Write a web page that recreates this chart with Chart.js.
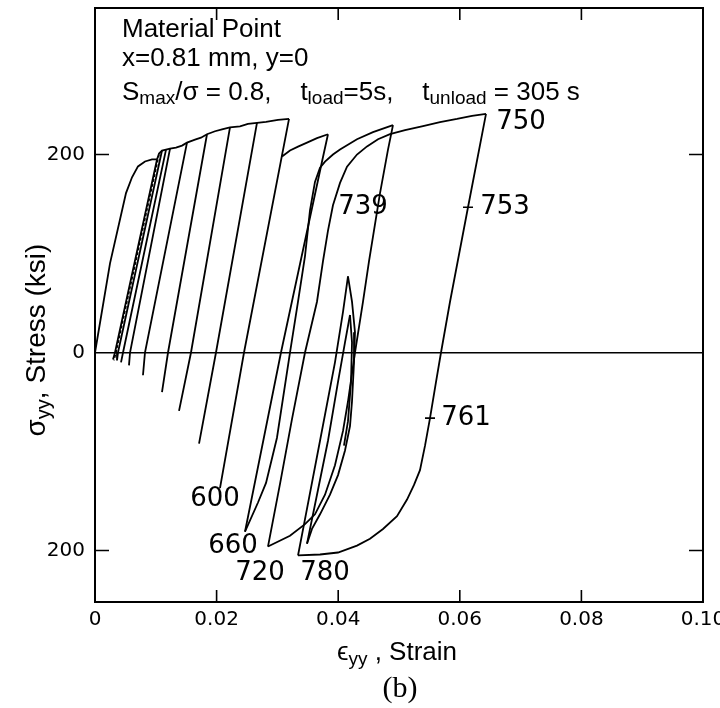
<!DOCTYPE html>
<html>
<head>
<meta charset="utf-8">
<script src="https://cdn.jsdelivr.net/npm/chart.js@4.4.1/dist/chart.umd.min.js"></script>
<style>
html,body{margin:0;padding:0;background:#fff;}
canvas{display:block;}
</style>
</head>
<body>
<canvas id="chart" width="720" height="708"></canvas>
<script>
// ---------------- axis ticks ----------------
const xTicks = [0, 0.02, 0.04, 0.06, 0.08, 0.10];
const xTickLabels = ['0', '0.02', '0.04', '0.06', '0.08', '0.10'];
const yTicks = [-200, 0, 200];
const yTickLabels = ['200', '0', '200'];

// ---------------- first loading ----------------
const initStrain = [0, 0.00247, 0.0051, 0.00609, 0.00707, 0.00822, 0.00938, 0.0102];
const initStress = [0, 90, 161, 177, 188, 193, 195, 195];

// ---------------- upper envelope of the early cycles ----------------
const envStrain = [0.0102, 0.01053, 0.01102, 0.01168, 0.01234, 0.01332, 0.01431, 0.01513, 0.01645, 0.01743,
                   0.01842, 0.01974, 0.02089, 0.0222, 0.02385, 0.02516, 0.02664, 0.02813, 0.0301, 0.03191];
const envStress = [195, 201, 204, 205, 206, 207, 209, 212, 215, 217,
                   220.5, 223.5, 225.5, 227.5, 228.5, 231, 232, 233, 235, 236];

// ---------------- early unload / reload lines (peak -> zero crossing -> minimum) ----------------
const cycPeakStrain = [0.0102, 0.01102, 0.01168, 0.01234, 0.01513, 0.01842, 0.0222, 0.02664, 0.03191];
const cycPeakStress = [195, 204, 205, 206, 212, 220.5, 227.5, 232, 236];
const cycZeroStrain = [0.00329, 0.00378, 0.00461, 0.00576, 0.00822, 0.01201, 0.01579, 0.0199, 0.02451];
const cycMinStrain  = [0.00296, 0.00362, 0.00428, 0.00559, 0.00789, 0.01102, 0.01382, 0.01711, 0.02056];
const cycMinStress  = [-7, -8, -10, -13, -23, -40, -59, -92, -137];

// repeated first cycles (double line)
const repStrain = [0.01053, 0.00345, 0.00312];
const repStress = [200, 0, -8];

// ---------------- later cycles ----------------
const load630Strain = [0.03076, 0.03207, 0.03339, 0.03487, 0.03651, 0.03832];
const load630Stress = [198, 204, 208, 212, 216.5, 220.5];

const unload660Strain = [0.03832, 0.03734, 0.03059, 0.02467];
const unload660Stress = [220.5, 193, 0, -181];

const load690Strain = [0.02467, 0.02681, 0.02813, 0.02993, 0.03207, 0.03339, 0.03454, 0.03536, 0.03618, 0.03701,
                       0.03783, 0.03914, 0.0403, 0.04309, 0.04572, 0.04901];
const load690Stress = [-181, -151.5, -131.7, -86.1, 0, 51.3, 97.4, 143.6, 172.3, 186.7,
                       192.8, 200, 205.1, 215.4, 222.6, 229.7];

const unload720Strain = [0.04901, 0.04819, 0.04688, 0.04507, 0.04408, 0.04276, 0.04161, 0.04079, 0.03947, 0.03783,
                         0.03618, 0.03454, 0.03207, 0.02845];
const unload720Stress = [229.7, 205, 161, 92.3, 51.3, 0, -49.5, -79.2, -113.9, -143.6,
                         -163.4, -173.3, -185.1, -196];

const load750Strain = [0.02845, 0.03043, 0.0324, 0.03454, 0.03651, 0.0375, 0.03832, 0.03914, 0.0403, 0.04145,
                       0.04309, 0.04474, 0.04655, 0.04852, 0.05099, 0.05395, 0.05674, 0.05954, 0.06201, 0.06431];
const load750Stress = [-196, -132.7, -67.3, 0, 51.3, 92.3, 123.1, 148.7, 171.3, 187.7,
                       200, 208.2, 215.4, 220.5, 224.6, 228.7, 232.8, 235.9, 239, 241];

const unload780Strain = [0.06431, 0.06135, 0.05839, 0.05691, 0.05609, 0.0551, 0.05428, 0.05345, 0.05247, 0.05132,
                         0.04967, 0.04737, 0.04523, 0.04309, 0.03997, 0.03701, 0.03339];
const unload780Stress = [241, 146.7, 51.3, 0, -29.7, -66.3, -94.1, -118.8, -133.7, -148.5,
                         -165.3, -178.2, -188.1, -195, -202, -204, -205];

const load810Strain = [0.03339, 0.03454, 0.03701, 0.03947, 0.04079, 0.04161];
const load810Stress = [-205, -168.3, -89.1, -9.9, 41, 76.9];

const unload840Strain = [0.04161, 0.04227, 0.04276, 0.0426, 0.04227, 0.04194, 0.04112, 0.03997, 0.03865, 0.03701, 0.03569, 0.03487];
const unload840Stress = [76.9, 51.3, 20.5, -9.9, -49.5, -74.3, -99, -123.8, -143.6, -163.4, -178.2, -193.1];

const load870Strain = [0.03487, 0.03668, 0.03832, 0.03997, 0.04112, 0.04194];
const load870Stress = [-193.1, -138.6, -89.1, -29.7, 10.3, 37.9];

const unload900Strain = [0.04194, 0.04227, 0.04211, 0.04161, 0.04095];
const unload900Stress = [37.9, 10.3, -29.7, -69.3, -94.1];

// ---------------- curve labels ----------------
const curveLabels      = ['750', '753', '739', '761', '600', '660', '720', '780'];
const curveLabelStrain = [0.07007, 0.06743, 0.04408, 0.06102, 0.01974, 0.0227, 0.02714, 0.03783];
const curveLabelStress = [232.8, 146.7, 146.7, -66.3, -148.5, -196, -222.8, -222.8];
// small tick marks on the 750 -> 780 branch
const markStrain = [0.06135, 0.0551];
const markStress = [146.7, -66.3];

// ---------------- build datasets ----------------
function pts(xs, ys) { return xs.map((v, i) => ({ x: v, y: ys[i] })); }
const lineStyle = { showLine: true, borderColor: '#000', borderWidth: 1.8, pointRadius: 0, fill: false, tension: 0 };
const datasets = [];
function addLine(xs, ys, extra) { datasets.push(Object.assign({ data: pts(xs, ys) }, lineStyle, extra || {})); }

addLine(initStrain, initStress);
addLine(envStrain, envStress);
cycPeakStrain.forEach((p, i) => {
  addLine([p, cycZeroStrain[i], cycMinStrain[i]], [cycPeakStress[i], 0, cycMinStress[i]]);
});
addLine(repStrain, repStress, { borderDash: [3, 2], borderWidth: 1.5 });
addLine(load630Strain, load630Stress);
addLine(unload660Strain, unload660Stress);
addLine(load690Strain, load690Stress);
addLine(unload720Strain, unload720Stress);
addLine(load750Strain, load750Stress);
addLine(unload780Strain, unload780Stress);
addLine(load810Strain, load810Stress);
addLine(unload840Strain, unload840Stress);
addLine(load870Strain, load870Stress);
addLine(unload900Strain, unload900Stress);

// ---------------- text helpers ----------------
const SANS = "'Liberation Sans', Arial, sans-serif";
const DIG = "'DejaVu Sans', sans-serif";
function richWidth(ctx, segs, mainFont, subFont) {
  let w = 0;
  segs.forEach(s => { ctx.font = s.sub ? subFont : mainFont; w += ctx.measureText(s.t).width; });
  return w;
}
function drawRich(ctx, x, y, segs, mainFont, subFont, subDy) {
  segs.forEach(s => {
    ctx.font = s.sub ? subFont : mainFont;
    ctx.fillText(s.t, x, y + (s.sub ? subDy : 0));
    x += ctx.measureText(s.t).width;
  });
}

const decor = {
  id: 'decor',
  afterDraw(chart) {
    const { ctx, chartArea: a, scales: { x, y } } = chart;
    ctx.save();
    ctx.strokeStyle = '#000';
    ctx.fillStyle = '#000';
    // frame
    ctx.lineWidth = 2;
    ctx.strokeRect(a.left, a.top, a.right - a.left, a.bottom - a.top);
    // inward tick marks on all four sides
    ctx.lineWidth = 1.6;
    ctx.beginPath();
    xTicks.forEach(v => {
      if (v <= x.min || v >= x.max) return;
      const px = x.getPixelForValue(v);
      ctx.moveTo(px, a.bottom); ctx.lineTo(px, a.bottom - 12);
      ctx.moveTo(px, a.top); ctx.lineTo(px, a.top + 12);
    });
    yTicks.forEach(v => {
      if (v === 0) return;
      const py = y.getPixelForValue(v);
      ctx.moveTo(a.left, py); ctx.lineTo(a.left + 14, py);
      ctx.moveTo(a.right, py); ctx.lineTo(a.right - 14, py);
    });
    // marks on the curve
    markStrain.forEach((v, i) => {
      const px = x.getPixelForValue(v), py = y.getPixelForValue(markStress[i]);
      ctx.moveTo(px - 5, py); ctx.lineTo(px + 5, py);
    });
    ctx.stroke();

    // curve labels
    ctx.textAlign = 'center';
    ctx.textBaseline = 'middle';
    ctx.font = "26px " + DIG;
    curveLabels.forEach((t, i) => {
      ctx.fillText(t, x.getPixelForValue(curveLabelStrain[i]), y.getPixelForValue(curveLabelStress[i]));
    });

    // annotation block
    ctx.textAlign = 'left';
    ctx.textBaseline = 'alphabetic';
    const mainF = "26px " + SANS, subF = "19px " + SANS;
    ctx.font = mainF;
    ctx.fillText('Material Point', 122, 37);
    ctx.fillText('x=0.81 mm, y=0', 122, 66);
    drawRich(ctx, 122, 100, [
      { t: 'S' }, { t: 'max', sub: true }, { t: '/σ = 0.8,    t' }, { t: 'load', sub: true },
      { t: '=5s,    t' }, { t: 'unload', sub: true }, { t: ' = 305 s' }
    ], mainF, subF, 4);

    // x axis title
    const xt = [{ t: 'ϵ' }, { t: 'yy', sub: true }, { t: ' , Strain' }];
    const xw = richWidth(ctx, xt, mainF, subF);
    drawRich(ctx, 397 - xw / 2, 660, xt, mainF, subF, 5);
    // panel tag
    ctx.textAlign = 'center';
    ctx.font = "30px 'Liberation Serif', serif";
    ctx.fillText('(b)', 400, 697);

    // y axis title (rotated)
    ctx.textAlign = 'left';
    const yMain = "28px " + SANS, ySub = "20px " + SANS;
    const yt = [{ t: 'σ' }, { t: 'yy', sub: true }, { t: ', Stress (ksi)' }];
    const yw = richWidth(ctx, yt, yMain, ySub);
    ctx.translate(45, 340);
    ctx.rotate(-Math.PI / 2);
    drawRich(ctx, -yw / 2, 0, yt, yMain, ySub, 5);
    ctx.restore();
  }
};

new Chart(document.getElementById('chart'), {
  type: 'scatter',
  data: { datasets },
  options: {
    responsive: false,
    animation: false,
    devicePixelRatio: 1,
    events: [],
    layout: { padding: { left: 0, right: 17, top: 8, bottom: 0 } },
    plugins: { legend: { display: false }, tooltip: { enabled: false }, title: { display: false } },
    scales: {
      x: {
        type: 'linear', min: 0, max: 0.1,
        afterBuildTicks: s => { s.ticks = xTicks.map(v => ({ value: v })); },
        afterFit: s => { s.height = 106; s.paddingLeft = 0; s.paddingRight = 0; s.paddingTop = 0; s.paddingBottom = 0; },
        ticks: {
          autoSkip: false, maxRotation: 0, padding: 6, color: '#000',
          font: { family: "'DejaVu Sans', sans-serif", size: 20 },
          callback: (v, i) => xTickLabels[i]
        },
        grid: { display: false, drawTicks: false },
        border: { display: false }
      },
      y: {
        type: 'linear', min: -252, max: 348,
        afterBuildTicks: s => { s.ticks = yTicks.map(v => ({ value: v })); },
        afterFit: s => { s.width = 95; s.paddingLeft = 0; s.paddingRight = 0; s.paddingTop = 0; s.paddingBottom = 0; },
        ticks: {
          padding: 10, color: '#000',
          font: { family: "'DejaVu Sans', sans-serif", size: 20 },
          callback: (v, i) => yTickLabels[i]
        },
        grid: {
          drawTicks: false,
          color: c => (c.tick && c.tick.value === 0) ? '#000' : 'rgba(0,0,0,0)',
          lineWidth: 1.6
        },
        border: { display: false }
      }
    }
  },
  plugins: [decor]
});
</script>
</body>
</html>
